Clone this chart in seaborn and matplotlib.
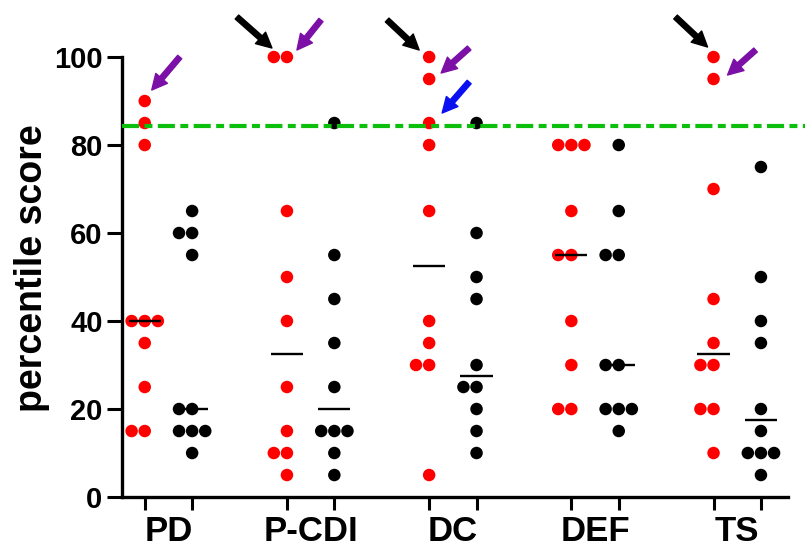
import numpy as np
import pandas as pd
import seaborn as sns
import matplotlib.pyplot as plt
from matplotlib.transforms import offset_copy

# percentile scores, 10 subjects per column
groups = ['PD', 'P-CDI', 'DC', 'DEF', 'TS']
red_scores = [
    [90, 85, 80, 40, 40, 40, 35, 25, 15, 15],
    [100, 100, 65, 50, 40, 25, 15, 10, 10, 5],
    [100, 95, 85, 80, 65, 40, 35, 30, 30, 5],
    [80, 80, 80, 65, 55, 55, 40, 30, 20, 20],
    [100, 95, 70, 45, 35, 30, 30, 20, 20, 10],
]
black_scores = [
    [65, 60, 60, 55, 20, 20, 15, 15, 15, 10],
    [85, 55, 45, 35, 25, 15, 15, 15, 10, 5],
    [85, 60, 50, 45, 30, 25, 25, 20, 15, 10],
    [80, 65, 55, 55, 30, 30, 20, 20, 20, 15],
    [75, 50, 40, 35, 20, 15, 10, 10, 10, 5],
]
cutoff = 84.3

# arrows pointing at single red dots: group, score, colour
arrow_groups = [0, 1, 1, 2, 2, 2, 4, 4]
arrow_scores = [90, 100, 100, 100, 95, 85, 100, 95]
arrow_colors = ['#7b0fa6', 'black', '#7b0fa6', 'black', '#7b0fa6', '#0a10f0', 'black', '#7b0fa6']
# head / tail offsets in pixels from the dot column (x right, y down)
arrow_heads = [(7, -11), (-15, -9), (10, -7), (-10, -7), (12, -6), (13, -10), (-6, -10), (14, -4)]
arrow_tails = [(35, -44), (-50, -40), (34, -37), (-42, -37), (40, -31), (40, -41), (-38, -40), (42, -29)]

rows = []
for i, g in enumerate(groups):
    for v in red_scores[i]:
        rows.append({'pos': 3 * i, 'score': v, 'side': 'red'})
    for v in black_scores[i]:
        rows.append({'pos': 3 * i + 1, 'score': v, 'side': 'black'})
df = pd.DataFrame(rows)

sns.set_style('ticks')
plt.rcParams['font.family'] = ['Liberation Sans', 'DejaVu Sans']
plt.rcParams['font.weight'] = 'bold'
for k in ('text.color', 'axes.labelcolor', 'xtick.color', 'ytick.color', 'axes.edgecolor'):
    plt.rcParams[k] = 'black'

fig = plt.figure(figsize=(8.1, 5.52), dpi=100)
ax = fig.add_axes([0.1506, 0.0996, 0.8222, 0.7971])

sns.swarmplot(data=df, x='pos', y='score', hue='side', orient='x',
              palette={'red': '#ff0000', 'black': 'black'}, native_scale=True,
              size=9, linewidth=0, legend=False, clip_on=False, zorder=3, ax=ax)

# median lines
for i in range(len(groups)):
    for off, vals in ((0, red_scores[i]), (1, black_scores[i])):
        p = 3 * i + off
        ax.hlines(np.median(vals), p - 0.34, p + 0.34, color='black', lw=1.7, zorder=4)

ax.axhline(cutoff, xmin=0, xmax=1.026, color='#0dbf0d', lw=3,
           dashes=(4.1, 1.3, 1.9, 1.3), clip_on=False, zorder=5)

for g, s, c, h, t in zip(arrow_groups, arrow_scores, arrow_colors, arrow_heads, arrow_tails):
    head_tr = offset_copy(ax.transData, fig=fig, x=h[0], y=-h[1], units='dots')
    ax.annotate('', xy=(3 * g, s), xycoords=head_tr,
                xytext=(t[0] - h[0], -(t[1] - h[1])), textcoords='offset pixels',
                arrowprops=dict(arrowstyle='simple,head_length=0.55,head_width=0.55,tail_width=0.19',
                                mutation_scale=20, color=c, shrinkA=0, shrinkB=0),
                annotation_clip=False)

ax.set_ylim(0, 100)
ax.set_yticks(range(0, 101, 20))
ax.set_xlim(-0.48, 13.57)
pos_all = [3 * i + k for i in range(len(groups)) for k in (0, 1)]
ax.set_xticks(pos_all, [''] * len(pos_all))
ax.set_xticks([3 * i + 0.5 for i in range(len(groups))], groups, minor=True)
ax.set_xlabel('')
ax.set_ylabel('percentile score', fontsize=27, fontweight='bold')
ax.yaxis.set_label_coords(-0.108, 0.52)

sns.despine(ax=ax)
for sp in ('left', 'bottom'):
    ax.spines[sp].set_linewidth(2.4)
ax.tick_params(axis='y', which='major', length=11, width=2.2, labelsize=21, pad=3)
ax.tick_params(axis='x', which='major', length=9.5, width=2.2)
ax.tick_params(axis='x', which='minor', length=0, labelsize=25, pad=13)

fig.savefig('out.png', dpi=100)
